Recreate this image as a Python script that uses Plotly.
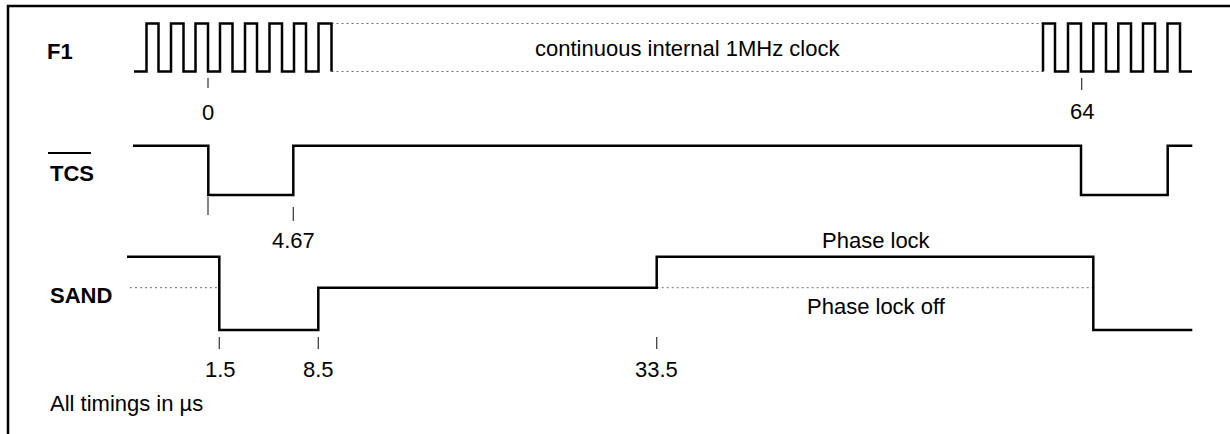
import plotly.graph_objects as go

# ---- diagram data (diagram units ~ pixels; y grows downward) ----
# F1 clock: left burst edges and right burst edges (x of each edge, level after edge)
F1_LEFT_X = [134, 146.5, 158.5, 171, 183.5, 195.5, 208, 220, 232.5, 245, 257, 269.5, 282, 294, 306, 318.5, 331.5]
F1_LEFT_LV = ["L", "H", "L", "H", "L", "H", "L", "H", "L", "H", "L", "H", "L", "H", "L", "H", "L"]
F1_RIGHT_X = [1043, 1043, 1055, 1068, 1081, 1093.3, 1106, 1118.3, 1131, 1143, 1155, 1167.5, 1180, 1192]
F1_RIGHT_LV = ["L", "H", "L", "H", "L", "H", "L", "H", "L", "H", "L", "H", "L", "L"]
F1_LEVELS = {"H": 23.5, "L": 71.5}
F1_GAP = [331.5, 1043]

TCS_X = [133, 208.3, 293.3, 1081, 1167.7, 1192.3]
TCS_LV = ["H", "L", "H", "L", "H", "H"]
TCS_LEVELS = {"H": 145.7, "L": 195}

SAND_X = [127, 219.3, 318.3, 656.7, 1093.3, 1192.3]
SAND_LV = ["H", "L", "M", "H", "L", "L"]
SAND_LEVELS = {"H": 256.7, "M": 287.7, "L": 330}
SAND_DOTTED = [[130, 219.3], [656.7, 1093.3]]

# timing marks
TICK_X = [208, 1081.7, 208, 293.3, 219.3, 318.3, 656.7]
TICK_Y0 = [78, 78, 197, 207, 337, 337, 337]
TICK_Y1 = [88, 90, 215, 221, 349, 349, 349]
TICK_LABELS = ["0", "64", "4.67", "1.5", "8.5", "33.5"]
TICK_LABEL_X = [208, 1082, 293.3, 220, 318.3, 656.7]
TICK_LABEL_Y = [112, 111, 240, 369, 369, 369]

SIGNAL_NAMES = ["F1", "TCS", "SAND"]
SIGNAL_NAME_X = [45, 48, 48]
SIGNAL_NAME_Y = [51, 173, 295]

NOTES = ["continuous internal 1MHz clock", "Phase lock", "Phase lock off", "All timings in µs"]
NOTES_X = [687, 876, 876, 48]
NOTES_Y = [48, 240, 306, 403]
NOTES_ANCHOR = ["center", "center", "center", "left"]

# outer frame (only top and left edges fall inside the picture)
FRAME_X = [8, 8, 1260]
FRAME_Y = [460, 6, 6]

FONT = "Liberation Sans, Arial, sans-serif"
FS = 22
W, H = 1230, 434

fig = go.Figure()

def wave(xs, lvs, levels):
    fig.add_trace(go.Scatter(
        x=xs, y=[levels[v] for v in lvs], mode="lines",
        line=dict(color="black", width=2.5, shape="hv"),
        hoverinfo="skip", showlegend=False))

def dotted(x0, x1, y):
    fig.add_trace(go.Scatter(
        x=[x0, x1], y=[y, y], mode="lines",
        line=dict(color="#6e6e6e", width=1, dash="2px,3px"),
        hoverinfo="skip", showlegend=False))

# frame
fig.add_trace(go.Scatter(x=FRAME_X, y=FRAME_Y, mode="lines",
                         line=dict(color="black", width=2.5),
                         hoverinfo="skip", showlegend=False))

# dotted continuations
for lv in ("H", "L"):
    dotted(F1_GAP[0], F1_GAP[1], F1_LEVELS[lv])
for seg in SAND_DOTTED:
    dotted(seg[0], seg[1], SAND_LEVELS["M"])

wave(F1_LEFT_X, F1_LEFT_LV, F1_LEVELS)
wave(F1_RIGHT_X, F1_RIGHT_LV, F1_LEVELS)
wave(TCS_X, TCS_LV, TCS_LEVELS)
wave(SAND_X, SAND_LV, SAND_LEVELS)

# ticks
for x, y0, y1 in zip(TICK_X, TICK_Y0, TICK_Y1):
    fig.add_trace(go.Scatter(
        x=[x, x], y=[y0, y1], mode="lines",
        line=dict(color="#333333", width=1.2),
        hoverinfo="skip", showlegend=False))

annotations = []
for t, x, y in zip(TICK_LABELS, TICK_LABEL_X, TICK_LABEL_Y):
    annotations.append(dict(x=x, y=y, text=t, showarrow=False, xanchor="center", yanchor="middle",
                            font=dict(family=FONT, size=FS, color="black")))
for t, x, y in zip(SIGNAL_NAMES, SIGNAL_NAME_X, SIGNAL_NAME_Y):
    annotations.append(dict(x=x, y=y, text="<b>" + t + "</b>", showarrow=False, xanchor="left", yanchor="middle",
                            font=dict(family=FONT, size=FS, color="black")))
for t, x, y, a in zip(NOTES, NOTES_X, NOTES_Y, NOTES_ANCHOR):
    annotations.append(dict(x=x, y=y, text=t, showarrow=False, xanchor=a, yanchor="middle",
                            font=dict(family=FONT, size=FS, color="black")))

shapes = [
    # overline on TCS
    dict(type="line", xref="x", yref="y", x0=48, x1=91, y0=153, y1=153, line=dict(color="black", width=2)),
]

fig.update_layout(
    width=W, height=H,
    margin=dict(l=0, r=0, t=0, b=0),
    paper_bgcolor="white", plot_bgcolor="white",
    xaxis=dict(range=[0, W], visible=False, fixedrange=True),
    yaxis=dict(range=[H, 0], visible=False, fixedrange=True),
    annotations=annotations, shapes=shapes,
    showlegend=False,
)

fig.write_html("out.html", config={"displayModeBar": False},
               post_script="document.body.style.margin='0px';")
